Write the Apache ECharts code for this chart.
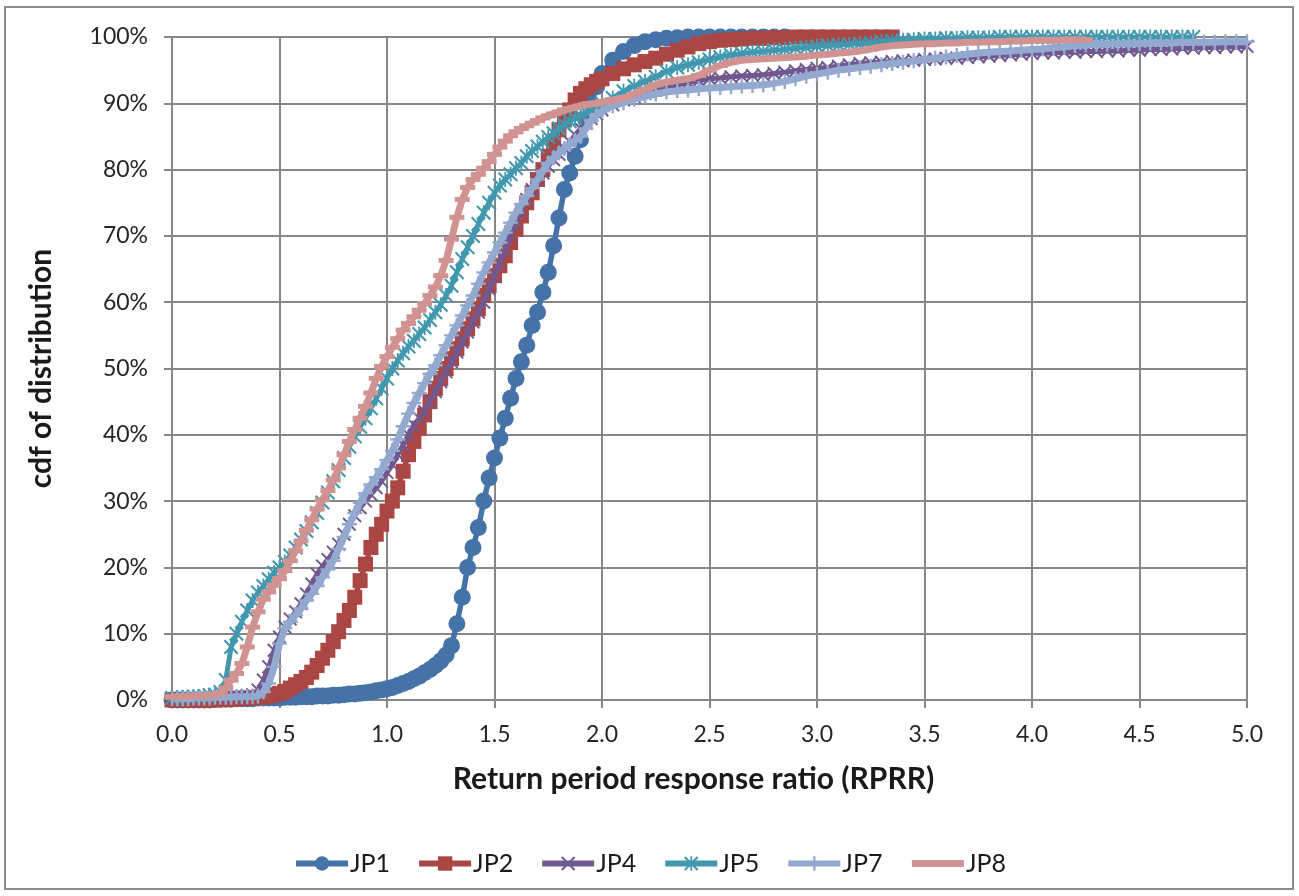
<!DOCTYPE html>
<html><head><meta charset="utf-8">
<script src="https://cdn.jsdelivr.net/npm/echarts@6/dist/echarts.min.js"></script>
<style>html,body{margin:0;padding:0;background:#fff}#c{width:1299px;height:896px}</style>
</head><body><div id="c"></div>
<script>
// RPRR grid (x values of the cdf points)
const xs=[0,0.025,0.05,0.075,0.1,0.125,0.15,0.175,0.2,0.225,0.25,0.275,0.3,0.325,0.35,0.375,0.4,0.425,0.45,0.475,0.5,0.525,0.55,0.575,0.6,0.625,0.65,0.675,0.7,0.725,0.75,0.775,0.8,0.825,0.85,0.875,0.9,0.925,0.95,0.975,1,1.025,1.05,1.075,1.1,1.125,1.15,1.175,1.2,1.225,1.25,1.275,1.3,1.325,1.35,1.375,1.4,1.425,1.45,1.475,1.5,1.525,1.55,1.575,1.6,1.625,1.65,1.675,1.7,1.725,1.75,1.775,1.8,1.825,1.85,1.875,1.9,1.925,1.95,1.975,2,
2.05,2.1,2.15,2.2,2.25,2.3,2.35,2.4,2.45,2.5,2.55,2.6,2.65,2.7,2.75,2.8,2.85,2.9,2.95,3,3.05,3.1,3.15,3.2,3.25,3.3,3.35,3.4,3.45,3.5,3.55,3.6,3.65,3.7,3.75,3.8,3.85,3.9,3.95,4,4.05,4.1,4.15,4.2,4.25,4.3,4.35,4.4,4.45,4.5,4.55,4.6,4.65,4.7,4.75,4.8,4.85,4.9,4.95,5];

// cdf values (%) per series, aligned with xs
const jp1=[0,0,0,0,0,0,0,0,0.1,0.1,0.1,0.1,0.2,0.2,0.2,0.2,0.3,0.3,0.3,0.3,0.3,0.4,0.4,0.4,0.5,0.5,0.5,0.6,0.6,0.6,0.7,0.7,0.8,0.9,0.9,1.0,1.1,1.2,1.4,1.5,1.7,1.9,2.2,2.5,2.8,3.2,3.6,4.1,4.6,5.2,5.9,6.8,8.2,11.5,15.5,20,23,26,30,33.5,36.5,39.5,42.5,45.5,48.5,51,53.5,56.5,58.5,61.5,64.5,68.5,72.7,77,79.5,82,84.5,87.5,90,92.5,94.5,
96.5,97.8,98.7,99.3,99.6,99.8,99.9,100,100,100,100,100,100,100,100,100,100];
const jp2=[0,0,0,0,0,0,0,0,0,0.1,0.1,0.1,0.2,0.2,0.3,0.3,0.4,0.5,0.6,0.8,1.0,1.3,1.8,2.3,2.8,3.4,4.2,5.2,6.3,7.5,8.8,10.3,12,13.5,15.5,18,20.5,23,25,26.5,28.5,30,32,34.5,37,39,41,43,45,47,48.5,50,51.5,53,54.5,56,57.5,59,61,62.5,64,65.5,67,69,71,73,75,76.5,78.5,80,82,84,86,87.5,89,90.5,91.5,92.2,92.8,93.3,93.7,
94.5,95.2,95.8,96.3,96.8,97.4,98,98.5,99,99.3,99.5,99.6,99.7,99.8,99.8,99.9,99.9,100,100,100,100,100,100,100,100,100,100];
const jp4=[0.3,0.3,0.3,0.3,0.4,0.4,0.4,0.4,0.5,0.5,0.5,0.5,0.6,0.6,0.7,0.8,1.5,3,5,7.5,9.5,11,12.2,13.3,14.5,16,17.5,19,20.2,21.2,22.3,23.5,25,26.5,27.8,29,30,31,32,33,34.3,35.5,37,38.5,40,41.5,42.5,43.5,45,46.5,48,49.5,51,52.5,54,55.5,57,58.5,60,62,64,66,68,70.2,72,74,75.5,77,78.5,79.5,80.5,81.5,82.3,83.2,84.2,85.2,86.2,87,87.7,88.4,89,
89.8,90.5,91,91.5,92,92.4,92.8,93.1,93.4,93.7,93.8,94,94.1,94.2,94.3,94.5,94.7,94.9,95.1,95.3,95.4,95.6,95.8,96,96.1,96.2,96.3,96.4,96.5,96.6,96.7,96.8,96.8,96.9,97,97.1,97.2,97.3,97.4,97.5,97.6,97.6,97.7,97.7,97.8,97.8,97.9,97.9,98,98,98.1,98.1,98.2,98.3,98.3,98.4,98.4,98.5,98.5,98.6];
const jp5=[0.3,0.3,0.4,0.4,0.5,0.5,0.6,0.7,0.8,1.2,3,8,10,11.8,13.5,15,16.2,17.2,18.2,19.2,20,20.8,21.8,23,24.2,25.5,26.8,28.2,29.8,31.3,33,34.7,36.5,38.2,39.8,41.2,42.5,44,45.5,47,48.5,50,51.2,52.3,53.3,54.2,55.2,56.2,57.3,58.5,59.6,61,62.5,64.5,66.5,68.3,70,71.8,73.5,75,76.5,77.6,78.5,79.3,80.2,81,82,82.8,83.5,84.2,84.9,85.5,86.2,86.8,87.3,87.8,88.2,88.6,89,89.4,89.9,
90.8,91.8,92.6,93.3,94,94.8,95.4,95.8,96.2,96.6,97,97.3,97.5,97.7,97.8,98,98.1,98.3,98.4,98.6,98.7,98.8,98.9,99,99.1,99.3,99.4,99.5,99.6,99.7,99.7,99.8,99.8,99.9,99.9,99.9,100,100,100,100,100,100,100,100,100,100,100,100,100,100,100,100,100,100,100];
const jp7=[0.2,0.2,0.2,0.2,0.3,0.3,0.3,0.3,0.4,0.4,0.4,0.4,0.5,0.5,0.5,0.5,0.6,1.2,2.5,5,8.5,10.8,11.8,12.8,13.8,15,16,17.2,18.5,19.7,21,22.8,24.6,26.5,28.2,29.8,31.2,32.5,33.6,34.8,36.2,37.6,39.3,41.3,43.2,44.8,46.3,47.8,49.2,50.5,52,53.5,55,56.5,58,59.5,61,62.8,64.5,66,67.5,69,70.5,72,73.5,74.8,76,77.2,78.5,79.8,81,81.8,82.5,83.2,83.8,84.4,85,86.2,87.4,88.2,88.8,
89.6,90.1,90.6,91,91.4,91.7,91.9,92,92.2,92.3,92.4,92.5,92.6,92.7,92.8,93,93.3,93.7,94.1,94.4,94.7,95,95.2,95.4,95.6,95.8,96,96.2,96.4,96.6,96.8,97,97.2,97.4,97.6,97.7,97.8,97.9,98,98.1,98.2,98.4,98.5,98.7,98.8,98.9,98.9,99,99,99,99.1,99.1,99.1,99.2,99.2,99.2,99.2,99.3,99.3,99.3];
const jp8=[0.5,0.5,0.5,0.6,0.6,0.6,0.7,0.7,0.8,1.0,1.8,3,4,5.5,8,11,13.3,15.2,16.3,17.3,18.3,19.5,21,22.5,24,25.6,27.2,28.8,30.2,31.6,33.2,35,37,39,40.8,42.5,44.3,46.3,48.5,50.3,51.8,53.2,54.5,55.8,56.8,57.8,58.8,59.8,61,62.3,64,66.3,69.5,72.8,75.5,77.3,78.5,79.3,80.2,81.2,82.3,83.4,84.3,85.1,85.7,86.2,86.6,87,87.4,87.8,88.1,88.4,88.7,89,89.2,89.4,89.6,89.8,89.9,90,90.2,
90.5,90.8,91.4,92.1,92.8,93.2,93.5,93.7,94.2,95,95.7,96.2,96.5,96.6,96.7,96.8,96.9,97,97.1,97.3,97.4,97.6,97.7,97.9,98.2,98.5,98.7,98.8,98.9,99,99,99.1,99.1,99.2,99.2,99.3,99.3,99.4,99.4,99.5,99.5,99.5,99.6,99.6,99.6];

const seriesNames=['JP1','JP2','JP4','JP5','JP7','JP8'];
const seriesValues=[jp1,jp2,jp4,jp5,jp7,jp8];

const colors=['#4572A7','#AA4643','#71588F','#4198AF','#93A9CF','#D19392'];
const symbols=['circle','rect',
 'path://M1,0 L5,4 L9,0 L10,1 L6,5 L10,9 L9,10 L5,6 L1,10 L0,9 L4,5 L0,1 Z',
 'path://M1,0 L5,4 L9,0 L10,1 L6,5 L10,9 L9,10 L5,6 L1,10 L0,9 L4,5 L0,1 Z M4.4,0 L5.6,0 L5.6,10 L4.4,10 Z',
 'path://M4.2,0 L5.8,0 L5.8,4.2 L10,4.2 L10,5.8 L5.8,5.8 L5.8,10 L4.2,10 L4.2,5.8 L0,5.8 L0,4.2 L4.2,4.2 Z',
 'path://M0,0 L10,0 L10,2 L0,2 Z'];
const sizes=[17,15,14,15,15,[15,5]];
const widths=[5.5,5.5,5,5,7,7];

const FONT='Lato, "Open Sans", sans-serif';
const chart=echarts.init(document.getElementById('c'),null,{renderer:'canvas'});
chart.setOption({
  animation:false,
  backgroundColor:'#fff',
  graphic:[{type:'rect',shape:{x:5,y:7,width:1288,height:882},style:{fill:'none',stroke:'#8c8c8c',lineWidth:2},z:-1}],
  grid:{left:172,right:52,top:37,bottom:196},
  legend:{
    top:846,left:'center',itemWidth:52,itemHeight:18,itemGap:26,
    textStyle:{fontFamily:FONT,fontSize:25,color:'#1a1a1a',padding:[0,0,0,-3]},
    data:seriesNames.map((n,k)=>k===5?{name:n,itemStyle:{opacity:0},lineStyle:{width:7,color:colors[k]}}:{name:n,lineStyle:{width:6,color:colors[k]}})
  },
  xAxis:{
    type:'value',min:0,max:5,interval:0.5,
    name:'Return period response ratio (RPRR)',nameLocation:'middle',nameGap:64,
    nameTextStyle:{fontFamily:FONT,fontSize:30,fontWeight:'bold',color:'#1a1a1a',padding:[0,32,0,0]},
    axisLine:{show:true,lineStyle:{color:'#878787',width:2}},
    axisTick:{show:true,length:8,lineStyle:{color:'#878787',width:2}},
    splitLine:{show:true,lineStyle:{color:'#878787',width:2}},
    axisLabel:{fontFamily:FONT,fontSize:23,color:'#262626',margin:23,formatter:v=>v.toFixed(1)}
  },
  yAxis:{
    type:'value',min:0,max:100,interval:10,
    name:'cdf of distribution',nameLocation:'middle',nameGap:116,nameRotate:90,
    nameTextStyle:{fontFamily:FONT,fontSize:30,fontWeight:'bold',color:'#1a1a1a'},
    axisLine:{show:true,lineStyle:{color:'#878787',width:2}},
    axisTick:{show:true,length:8,lineStyle:{color:'#878787',width:2}},
    splitLine:{show:true,lineStyle:{color:'#878787',width:2}},
    axisLabel:{fontFamily:FONT,fontSize:23,color:'#262626',margin:24,formatter:'{value}%'}
  },
  series:seriesNames.map((n,k)=>({
    name:n,type:'line',
    data:seriesValues[k].map((y,i)=>[xs[i],y]),
    symbol:symbols[k],symbolSize:sizes[k],showSymbol:true,showAllSymbol:true,
    lineStyle:{color:colors[k],width:widths[k]},
    itemStyle:{color:colors[k],opacity:1},
    emphasis:{disabled:true},
    z:2+k
  }))
});
</script></body></html>
